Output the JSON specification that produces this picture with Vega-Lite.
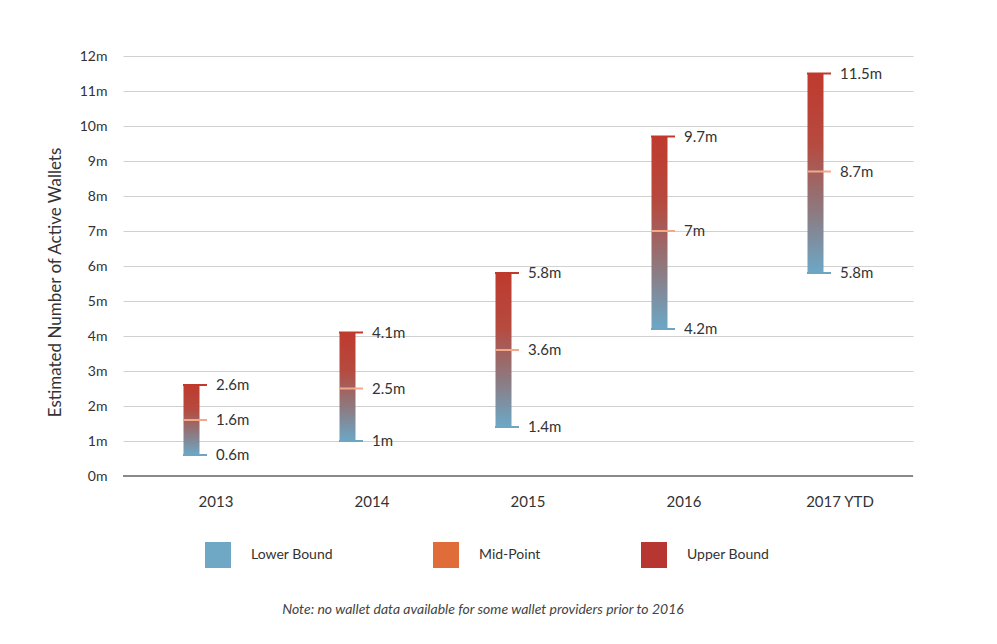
{
  "$schema": "https://vega.github.io/schema/vega-lite/v6.json",
  "autosize": "none",
  "width": 790,
  "height": 420,
  "padding": {"left": 123, "top": 56, "right": 84, "bottom": 168},
  "background": "white",
  "config": {
    "font": "Lato",
    "view": {"stroke": null}
  },
  "title": {
    "text": "Note: no wallet data available for some wallet providers prior to 2016",
    "orient": "bottom",
    "anchor": "middle",
    "fontStyle": "italic",
    "fontWeight": "normal",
    "fontSize": 14,
    "color": "#444",
    "font": "Lato",
    "offset": 35,
    "dx": -35
  },
  "data": {
    "values": [
      {"year": "2013", "series": "Lower Bound", "value": 0.6, "label": "0.6m"},
      {"year": "2013", "series": "Mid-Point", "value": 1.6, "label": "1.6m"},
      {"year": "2013", "series": "Upper Bound", "value": 2.6, "label": "2.6m"},
      {"year": "2014", "series": "Lower Bound", "value": 1.0, "label": "1m"},
      {"year": "2014", "series": "Mid-Point", "value": 2.5, "label": "2.5m"},
      {"year": "2014", "series": "Upper Bound", "value": 4.1, "label": "4.1m"},
      {"year": "2015", "series": "Lower Bound", "value": 1.4, "label": "1.4m"},
      {"year": "2015", "series": "Mid-Point", "value": 3.6, "label": "3.6m"},
      {"year": "2015", "series": "Upper Bound", "value": 5.8, "label": "5.8m"},
      {"year": "2016", "series": "Lower Bound", "value": 4.2, "label": "4.2m"},
      {"year": "2016", "series": "Mid-Point", "value": 7.0, "label": "7m"},
      {"year": "2016", "series": "Upper Bound", "value": 9.7, "label": "9.7m"},
      {"year": "2017 YTD", "series": "Lower Bound", "value": 5.8, "label": "5.8m"},
      {"year": "2017 YTD", "series": "Mid-Point", "value": 8.7, "label": "8.7m"},
      {"year": "2017 YTD", "series": "Upper Bound", "value": 11.5, "label": "11.5m"}
    ]
  },
  "encoding": {
    "x": {
      "field": "year",
      "type": "nominal",
      "sort": null,
      "scale": {"paddingInner": 0, "paddingOuter": 0.032},
      "axis": {
        "title": null,
        "labelAngle": 0,
        "ticks": false,
        "domain": false,
        "labelPadding": 18,
        "labelOffset": 10,
        "labelFontSize": 15,
        "labelColor": "#333",
        "labelFont": "Lato"
      }
    },
    "y": {
      "field": "value",
      "type": "quantitative",
      "scale": {"domain": [0, 12], "nice": false},
      "axis": {
        "title": "Estimated Number of Active Wallets",
        "titleFontSize": 17,
        "titleFontWeight": "normal",
        "titleColor": "#333",
        "titleFont": "Lato",
        "titlePadding": 15,
        "titleY": 226,
        "values": [0,1,2,3,4,5,6,7,8,9,10,11,12],
        "labelOverlap": false,
        "labelExpr": "datum.value + 'm'",
        "labelFontSize": 14,
        "labelColor": "#333",
        "labelFont": "Lato",
        "labelPadding": 16,
        "ticks": false,
        "domain": false,
        "grid": true,
        "gridColor": "#d0d0d0"
      }
    }
  },
  "layer": [
    {
      "mark": {"type": "rule", "color": "#888", "strokeWidth": 1},
      "encoding": {"y": {"datum": 0}, "x": {"value": 0}, "x2": {"value": 790}}
    },
    {
      "transform": [
        {"pivot": "series", "value": "value", "groupby": ["year"]}
      ],
      "mark": {
        "type": "bar",
        "width": 16,
        "xOffset": -14.5,
        "color": {
          "gradient": "linear",
          "x1": 0, "y1": 0, "x2": 0, "y2": 1,
          "stops": [
            {"offset": 0, "color": "#bf3a2e"},
            {"offset": 0.35, "color": "#b64a3f"},
            {"offset": 0.7, "color": "#8c7b82"},
            {"offset": 1, "color": "#6ba8c7"}
          ]
        }
      },
      "encoding": {
        "y": {
          "field": "Lower Bound",
          "type": "quantitative"
        },
        "y2": {"field": "Upper Bound"}
      }
    },
    {
      "transform": [{"filter": "datum.series === 'Lower Bound'"}],
      "mark": {"type": "tick", "orient": "horizontal", "size": 24, "thickness": 2, "xOffset": -11, "color": "#6ea6c2", "opacity": 1},
      "encoding": {}
    },
    {
      "transform": [{"filter": "datum.series === 'Mid-Point'"}],
      "mark": {"type": "tick", "orient": "horizontal", "size": 24, "thickness": 2, "xOffset": -11, "color": "#f3a888", "opacity": 1},
      "encoding": {}
    },
    {
      "transform": [{"filter": "datum.series === 'Upper Bound'"}],
      "mark": {"type": "tick", "orient": "horizontal", "size": 24, "thickness": 2, "xOffset": -11, "color": "#c0392b", "opacity": 1},
      "encoding": {}
    },
    {
      "mark": {"type": "square", "opacity": 0, "size": 1},
      "encoding": {
        "color": {
          "field": "series",
          "type": "nominal",
          "scale": {
            "domain": ["Lower Bound", "Mid-Point", "Upper Bound"],
            "range": ["#6fa8c4", "#e06c3a", "#b83631"]
          },
          "legend": {
            "title": null,
            "orient": "none",
            "legendX": 82,
            "legendY": 486,
            "direction": "horizontal",
            "symbolType": "square",
            "symbolSize": 676,
            "symbolOpacity": 1,
            "symbolStrokeWidth": 0,
            "labelFontSize": 14,
            "labelColor": "#333",
            "labelFont": "Lato",
            "labelOffset": 20,
            "columnPadding": 100
          }
        }
      }
    },
    {
      "mark": {"type": "text", "align": "left", "baseline": "middle", "dx": 10, "fontSize": 15, "color": "#333", "font": "Lato"},
      "encoding": {
        "text": {"field": "label"}
      }
    }
  ]
}
